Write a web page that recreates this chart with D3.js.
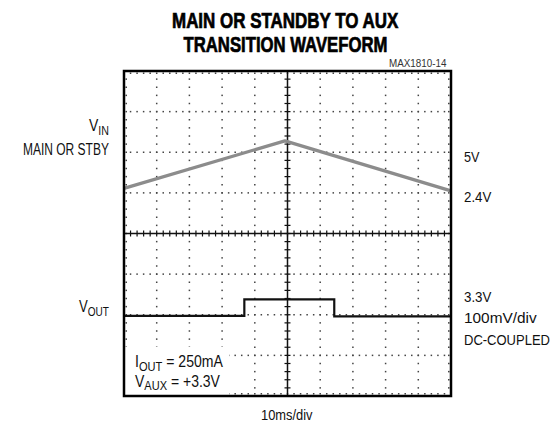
<!DOCTYPE html>
<html><head><meta charset="utf-8">
<script src="https://cdn.jsdelivr.net/npm/d3@7"></script>
<style>body{margin:0;background:#fff}svg{display:block}text{font-family:"Liberation Sans","Arial",sans-serif}</style>
</head><body><svg id="c" width="559" height="427"></svg>
<script>
// time axis (ms, 10ms/div) and vertical divisions (8 div)
const xMajor = [0,10,20,30,40,50,60,70,80,90,100];
const yMajor = [0,1,2,3,4,5,6,7,8];
// VIN trace (divisions from bottom)
const vinTime = [0, 49.2, 100];
const vinDiv  = [5.11, 6.28, 5.05];
// VOUT trace (divisions from bottom)
const voutTime = [0, 36.8, 36.8, 64.3, 64.3, 100];
const voutDiv  = [1.97, 1.97, 2.38, 2.38, 1.96, 1.96];

const svg = d3.select("#c");
const L=124, R=451, T=71, B=396;
const x = d3.scaleLinear().domain([0,100]).range([L,R]);
const y = d3.scaleLinear().domain([0,8]).range([B,T]);
const xMinor = d3.range(0, 100.001, 2);
const yMinor = d3.range(0, 8.001, 0.2);
const dotC = "#444";

// dotted grid
const g = svg.append("g");
xMajor.slice(1,-1).filter(v=>v!==50).forEach(xv=>{
  g.selectAll(null).data(yMinor.slice(1,-1)).enter().append("rect")
   .attr("x", x(xv)-0.75).attr("y", d=>y(d)-0.75).attr("width",1.5).attr("height",1.5).attr("fill",dotC);
});
yMajor.slice(1,-1).filter(v=>v!==4).forEach(yv=>{
  g.selectAll(null).data(xMinor.slice(1,-1)).enter().append("rect")
   .attr("x", d=>x(d)-0.75).attr("y", y(yv)-0.75).attr("width",1.5).attr("height",1.5).attr("fill",dotC);
});
// dots inside border
g.selectAll(null).data(xMinor.slice(1,-1)).enter().append("rect")
 .attr("x", d=>x(d)-0.75).attr("y", T+1.5).attr("width",1.5).attr("height",1.5).attr("fill",dotC);
g.selectAll(null).data(xMinor.slice(1,-1)).enter().append("rect")
 .attr("x", d=>x(d)-0.75).attr("y", B-3).attr("width",1.5).attr("height",1.5).attr("fill",dotC);
g.selectAll(null).data(yMinor.slice(1,-1)).enter().append("rect")
 .attr("x", L+1.5).attr("y", d=>y(d)-0.75).attr("width",1.5).attr("height",1.5).attr("fill",dotC);
g.selectAll(null).data(yMinor.slice(1,-1)).enter().append("rect")
 .attr("x", R-3).attr("y", d=>y(d)-0.75).attr("width",1.5).attr("height",1.5).attr("fill",dotC);

// center axes with ticks
const cx = x(50), cy = y(4);
svg.append("line").attr("x1",L).attr("x2",R).attr("y1",cy).attr("y2",cy).attr("stroke","#111").attr("stroke-width",1.5);
svg.append("line").attr("x1",cx).attr("x2",cx).attr("y1",T).attr("y2",B).attr("stroke","#111").attr("stroke-width",1.5);
svg.selectAll(null).data(xMinor.slice(1,-1)).enter().append("line")
 .attr("x1",d=>x(d)).attr("x2",d=>x(d)).attr("y1",cy-3).attr("y2",cy+3).attr("stroke","#111").attr("stroke-width",1.2);
svg.selectAll(null).data(yMinor.slice(1,-1)).enter().append("line")
 .attr("y1",d=>y(d)).attr("y2",d=>y(d)).attr("x1",cx-3).attr("x2",cx+3).attr("stroke","#111").attr("stroke-width",1.2);

// text box background
svg.append("rect").attr("x",L+1).attr("y",347).attr("width",104).attr("height",B-347-1).attr("fill","#fff");

// traces
const line = d3.line().x(d=>x(d[0])).y(d=>y(d[1]));
svg.append("path").datum(d3.zip(vinTime, vinDiv)).attr("d", line)
 .attr("fill","none").attr("stroke","#8c8c8c").attr("stroke-width",3.2).attr("stroke-linejoin","round");
svg.append("path").datum(d3.zip(voutTime, voutDiv)).attr("d", line)
 .attr("fill","none").attr("stroke","#111").attr("stroke-width",2.2);

// border
svg.append("rect").attr("x",L).attr("y",T).attr("width",R-L).attr("height",B-T)
 .attr("fill","none").attr("stroke","#000").attr("stroke-width",2.5);

// condensed text: draw in a group scaled horizontally to a target width
function ctext(parts, xx, yy, size, anchor, width, weight, fill, strokeW){
  const grp = svg.append("g");
  const t = grp.append("text").attr("x",0).attr("y",0).attr("font-size",size)
    .attr("font-weight",weight||"normal").attr("fill",fill||"#111");
  if (strokeW) t.attr("stroke", fill||"#111").attr("stroke-width", strokeW);
  parts.forEach(p=>{
    if (typeof p === "string") t.append("tspan").text(p);
    else t.append("tspan").attr("dy",p.dy).attr("font-size",p.size||size).text(p.t);
  });
  const w = t.node().getBBox().width;
  const sx = width / w;
  let x0 = xx;
  if (anchor === "end") x0 = xx - width;
  else if (anchor === "middle") x0 = xx - width/2;
  grp.attr("transform", `translate(${x0},${yy}) scale(${sx},1)`);
  return grp;
}
const sub = (s, size)=>({t:s, dy:3.5, size:size});
const up = (s)=>({t:s, dy:-3.5});

ctext(["MAIN OR STANDBY TO AUX"], 285.5, 28, 21.5, "middle", 227, "bold", "#000", 0.7);
ctext(["TRANSITION WAVEFORM"], 285.5, 52, 21.5, "middle", 204, "bold", "#000", 0.7);
ctext(["MAX1810-14"], 447, 66.5, 10, "end", 58, "normal", "#333");

// left labels
ctext(["V", sub("IN",13)], 109, 131, 17, "end", 20);
ctext(["MAIN OR STBY"], 109, 155, 16.5, "end", 86);
ctext(["V", sub("OUT",13)], 109, 312, 17, "end", 30);

// right labels
ctext(["5V"], 464, 162, 15.5, "start", 16);
ctext(["2.4V"], 464, 201.5, 15.5, "start", 28);
ctext(["3.3V"], 464, 301.5, 15.5, "start", 28);
ctext(["100mV/div"], 464, 323, 15.5, "start", 73);
ctext(["DC-COUPLED"], 464, 345, 15.5, "start", 86);

// inner labels
ctext(["I", sub("OUT",13), up(" = 250mA")], 135, 367, 16.5, "start", 88);
ctext(["V", sub("AUX",13), up(" = +3.3V")], 135, 386.5, 16.5, "start", 85);

ctext(["10ms/div"], 287, 420, 15, "middle", 52);
</script></body></html>
